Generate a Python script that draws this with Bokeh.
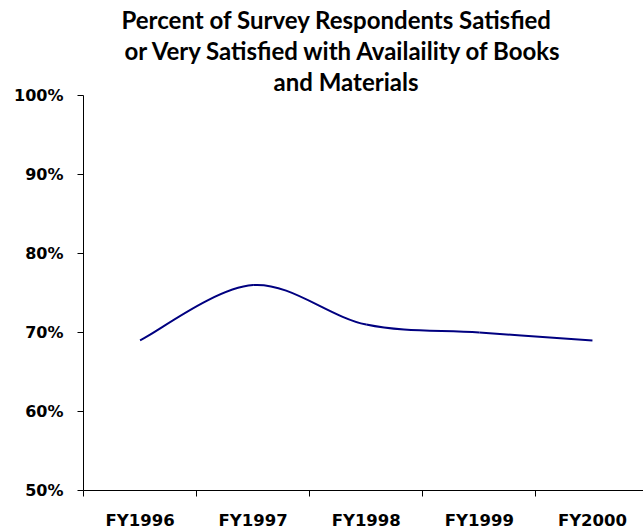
from bokeh.plotting import figure
from bokeh.models import Range1d, FixedTicker, PrintfTickFormatter, Title, ColumnDataSource
from bokeh.embed import file_html
from bokeh.resources import INLINE

categories = ["FY1996", "FY1997", "FY1998", "FY1999", "FY2000"]
satisfied_pct = [69, 76, 71, 70, 69]
y_ticks = [50, 60, 70, 80, 90, 100]
title_lines = [
    "Percent of Survey Respondents Satisfied",
    "or Very Satisfied with Availaility of Books",
    "and  Materials",
]
title_offsets = [38, 41, 190]

n = len(categories)
xs = list(range(n))

# Smoothed line (Excel-style): cubic Bezier segments through the data points
ext_x = [xs[0]] + xs + [xs[-1]]
ext_y = [satisfied_pct[0]] + satisfied_pct + [satisfied_pct[-1]]
seg = dict(x0=[], y0=[], x1=[], y1=[], cx0=[], cy0=[], cx1=[], cy1=[])
for i in range(n - 1):
    j = i + 1
    seg["x0"].append(ext_x[j]); seg["y0"].append(ext_y[j])
    seg["x1"].append(ext_x[j + 1]); seg["y1"].append(ext_y[j + 1])
    seg["cx0"].append(ext_x[j] + (ext_x[j + 1] - ext_x[j - 1]) / 6)
    seg["cy0"].append(ext_y[j] + (ext_y[j + 1] - ext_y[j - 1]) / 6)
    seg["cx1"].append(ext_x[j + 1] - (ext_x[j + 2] - ext_x[j]) / 6)
    seg["cy1"].append(ext_y[j + 1] - (ext_y[j + 2] - ext_y[j]) / 6)
src = ColumnDataSource(seg)

FONT = "DejaVu Sans"
TFONT = "Lato"

p = figure(width=643, height=532, output_backend="svg", toolbar_location=None,
           x_range=Range1d(-0.5, -0.5 + 560 / 113.1), y_range=Range1d(50, 100),
           min_border_left=83, min_border_right=0, min_border_top=95,
           min_border_bottom=40)
p.outline_line_color = None
p.grid.visible = False
p.background_fill_color = "white"
p.border_fill_color = "white"

p.bezier(x0="x0", y0="y0", x1="x1", y1="y1", cx0="cx0", cy0="cy0",
         cx1="cx1", cy1="cy1", source=src, line_color="#000080", line_width=2)

# x axis: labels at category centres, tick marks between categories
xa = p.xaxis[0]
xa.ticker = FixedTicker(ticks=xs, minor_ticks=[i - 0.5 for i in range(n)])
xa.major_label_overrides = {i: c for i, c in enumerate(categories)}
xa.major_tick_out = 0
xa.major_tick_in = 0
xa.minor_tick_out = 6
xa.minor_tick_in = 0
xa.minor_tick_line_color = "black"
xa.axis_line_color = "black"
xa.major_label_standoff = 14
xa.major_label_text_font = FONT
xa.major_label_text_font_style = "bold"
xa.major_label_text_font_size = "16.5px"
xa.major_label_text_color = "black"

ya = p.yaxis[0]
ya.ticker = FixedTicker(ticks=y_ticks, minor_ticks=[])
ya.formatter = PrintfTickFormatter(format="%d%%")
ya.major_tick_out = 6
ya.major_tick_in = 0
ya.major_tick_line_color = "black"
ya.axis_line_color = "black"
ya.major_label_standoff = 14
ya.major_label_text_font = FONT
ya.major_label_text_font_style = "bold"
ya.major_label_text_font_size = "16px"
ya.major_label_text_color = "black"

for line, off in reversed(list(zip(title_lines, title_offsets))):
    p.add_layout(Title(text=line, align="left", offset=off,
                       text_font=TFONT, text_font_style="bold",
                       text_font_size="24px", text_color="black",
                       standoff=0), "above")

open("out.html", "w").write(file_html(p, INLINE))
